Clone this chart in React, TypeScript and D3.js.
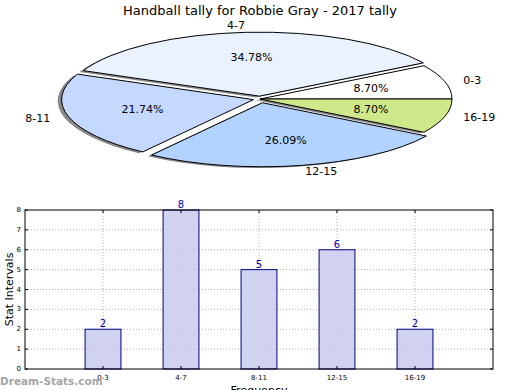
import React from 'react';
import * as d3 from 'd3';

const categories = ['0-3', '4-7', '8-11', '12-15', '16-19'];
const counts = [2, 8, 5, 6, 2];
const pieColors = ['#ffffff', '#eaf2ff', '#c5d8ff', '#b3d3ff', '#cfe98a'];
const explode = [0, 0.045, 0.035, 0.06, 0];
const yTicks = [0, 1, 2, 3, 4, 5, 6, 7, 8];

const W = 520;
const H = 390;
const font = 'DejaVu Sans, sans-serif';

const App = () => {
  // pie geometry (unit circle squashed into an ellipse)
  const cx = 260;
  const cy = 99;
  const rx = 192;
  const ry = 64;

  const pie = d3
    .pie<number>()
    .sort(null)
    .startAngle(Math.PI / 2)
    .endAngle(Math.PI / 2 - 2 * Math.PI);
  const arcs = pie(counts);
  const arc = d3.arc<d3.PieArcDatum<number>>().innerRadius(0).outerRadius(1);
  const total = d3.sum(counts);

  const slices = arcs.map((a, i) => {
    const mid = (a.startAngle + a.endAngle) / 2;
    const ux = Math.sin(mid);
    const uy = -Math.cos(mid);
    const ox = cx + explode[i] * rx * ux;
    const oy = cy + explode[i] * ry * uy;
    return { a, i, ux, uy, ox, oy };
  });

  // bar chart
  const plot = { left: 25, right: 493, top: 210, bottom: 369 };
  const x = d3.scaleLinear().domain([0, 6]).range([plot.left, plot.right]);
  const y = d3.scaleLinear().domain([0, 8]).range([plot.bottom, plot.top]);
  const barW = x(0.46) - x(0);

  return (
    <svg
      width={W}
      height={H}
      style={{ position: 'absolute', left: 0, top: 0, background: '#fff' }}
      fontFamily={font}
    >
      <text x={260} y={15} textAnchor="middle" fontSize={13} fill="#000">
        Handball tally for Robbie Gray - 2017 tally
      </text>

      {/* shadows */}
      {slices.map((s) => (
        <path
          key={'sh' + s.i}
          d={arc(s.a) || ''}
          transform={`translate(${s.ox - 0.02 * rx},${s.oy + 0.02 * ry}) scale(${rx},${ry})`}
          fill="#555"
          fillOpacity={0.7}
          stroke="none"
        />
      ))}
      {slices.map((s) => (
        <path
          key={'w' + s.i}
          d={arc(s.a) || ''}
          transform={`translate(${s.ox},${s.oy}) scale(${rx},${ry})`}
          fill={pieColors[s.i]}
          stroke="#000"
          strokeWidth={1}
          vectorEffect="non-scaling-stroke"
          strokeLinejoin="round"
        />
      ))}
      {slices.map((s) => (
        <text
          key={'p' + s.i}
          x={s.ox + 0.6 * rx * s.ux}
          y={s.oy + 0.6 * ry * s.uy}
          textAnchor="middle"
          dominantBaseline="central"
          fontSize={11}
        >
          {((counts[s.i] / total) * 100).toFixed(2) + '%'}
        </text>
      ))}
      {slices.map((s) => (
        <text
          key={'l' + s.i}
          x={s.ox + 1.1 * rx * s.ux}
          y={s.oy + 1.1 * ry * s.uy}
          textAnchor={s.ux >= 0 ? 'start' : 'end'}
          dominantBaseline="central"
          fontSize={11}
        >
          {categories[s.i]}
        </text>
      ))}

      {/* grid */}
      {yTicks.slice(1, -1).map((t) => (
        <line
          key={'gy' + t}
          x1={plot.left}
          x2={plot.right}
          y1={y(t)}
          y2={y(t)}
          stroke="#b0b0b0"
          strokeDasharray="1,2"
        />
      ))}
      {categories.map((c, i) => (
        <line
          key={'gx' + c}
          x1={x(i + 1)}
          x2={x(i + 1)}
          y1={plot.top}
          y2={plot.bottom}
          stroke="#b0b0b0"
          strokeDasharray="1,2"
        />
      ))}

      {/* bars */}
      {counts.map((v, i) => (
        <rect
          key={'b' + i}
          x={x(i + 1) - barW / 2}
          y={y(v)}
          width={barW}
          height={y(0) - y(v)}
          fill="#ccccee"
          fillOpacity={0.9}
          stroke="#000080"
          strokeWidth={1}
        />
      ))}
      {counts.map((v, i) => (
        <text
          key={'v' + i}
          x={x(i + 1)}
          y={y(v) - 2}
          textAnchor="middle"
          fontSize={10}
          fill="#0000aa"
        >
          {v}
        </text>
      ))}

      {/* frame and ticks */}
      <rect
        x={plot.left}
        y={plot.top}
        width={plot.right - plot.left}
        height={plot.bottom - plot.top}
        fill="none"
        stroke="#000"
        strokeWidth={1}
      />
      {yTicks.map((t) => (
        <g key={'ty' + t}>
          <line x1={plot.left} x2={plot.left + 3} y1={y(t)} y2={y(t)} stroke="#000" />
          <line x1={plot.right - 3} x2={plot.right} y1={y(t)} y2={y(t)} stroke="#000" />
          <text
            x={plot.left - 4}
            y={y(t)}
            textAnchor="end"
            dominantBaseline="central"
            fontSize={7}
          >
            {t}
          </text>
        </g>
      ))}
      {categories.map((c, i) => (
        <g key={'tx' + c}>
          <line x1={x(i + 1)} x2={x(i + 1)} y1={plot.bottom} y2={plot.bottom - 3} stroke="#000" />
          <line x1={x(i + 1)} x2={x(i + 1)} y1={plot.top} y2={plot.top + 3} stroke="#000" />
          <text x={x(i + 1)} y={plot.bottom + 11} textAnchor="middle" fontSize={7}>
            {c}
          </text>
        </g>
      ))}

      <text x={(plot.left + plot.right) / 2} y={394} textAnchor="middle" fontSize={11}>
        Frequency
      </text>
      <text
        transform={`translate(13,${(plot.top + plot.bottom) / 2}) rotate(-90)`}
        textAnchor="middle"
        fontSize={11}
      >
        Stat Intervals
      </text>

      <text x={0} y={385} fontSize={10.5} fontWeight="bold" fill="#999" fillOpacity={0.9}>
        Dream-Stats.com
      </text>
    </svg>
  );
};

export default App;
